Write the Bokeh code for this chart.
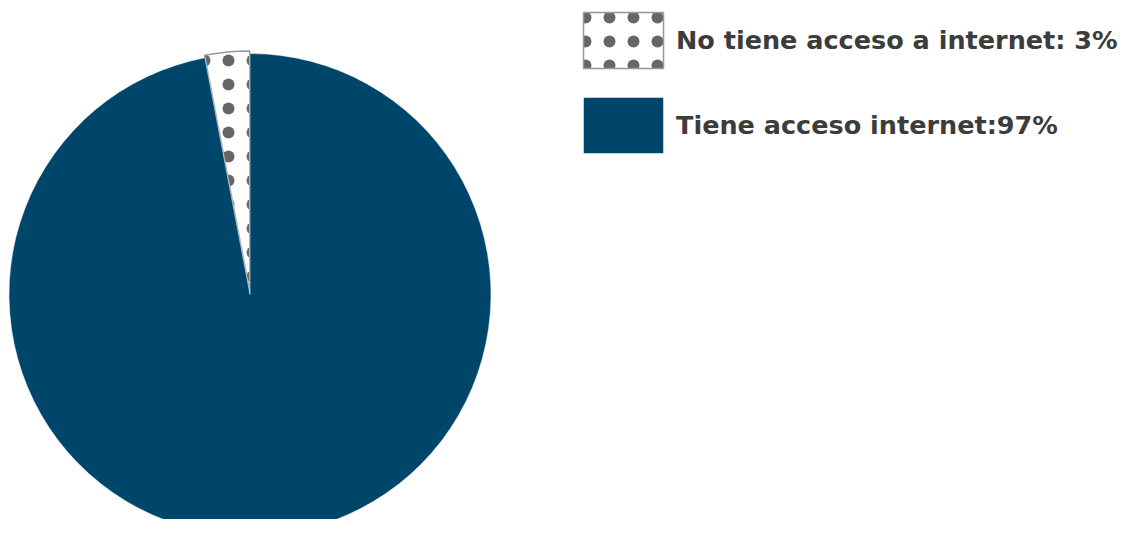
import math
from bokeh.plotting import figure
from bokeh.models import Range1d, Legend, LegendItem, ColumnDataSource
from bokeh.embed import file_html
from bokeh.resources import INLINE

# Data
labels = ["No tiene acceso a internet: 3%", "Tiene acceso internet:97%"]
values = [3, 97]

W, H = 1124, 519
p = figure(width=W, height=H, output_backend="svg", toolbar_location=None,
           x_range=Range1d(0, W), y_range=Range1d(0, H), min_border=0)
p.axis.visible = False
p.grid.visible = False
p.outline_line_color = None
p.background_fill_color = "white"
p.border_fill_color = "white"

cx, cy, r = 249.5, H - 294.0, 241.0
total = sum(values)
start = math.pi / 2
angles = []
for v in values:
    a = 2 * math.pi * v / total
    angles.append((start, start + a))
    start += a

styles = [
    dict(fill_color="white", line_color="#999999", line_width=1.5,
         hatch_pattern="dot", hatch_color="#666666", hatch_scale=24, hatch_weight=8,
         explode=2.5),
    dict(fill_color="#00466A", line_color="white", line_width=0.5, explode=0.0),
]

items = []
for lab, (a0, a1), st in zip(labels, angles, styles):
    st = dict(st)
    ex = st.pop("explode")
    mid = (a0 + a1) / 2
    src = ColumnDataSource(dict(x=[cx + ex * math.cos(mid)], y=[cy + ex * math.sin(mid)],
                                s=[a0], e=[a1]))
    rend = p.wedge(x="x", y="y", radius=r, start_angle="s", end_angle="e", source=src, **st)
    items.append(LegendItem(label=lab, renderers=[rend]))

leg_h = 70 * 2 + 15
legend = Legend(items=items, location=(573, H - 5 - leg_h), orientation="vertical",
                glyph_width=100, glyph_height=70, spacing=15, padding=0, margin=0,
                label_standoff=3, label_text_font="DejaVu Sans", label_text_font_style="bold",
                label_text_font_size="25.5px", label_text_color="#3c3c3c",
                background_fill_alpha=0, border_line_alpha=0, label_height=70)
p.add_layout(legend)

open("out.html", "w").write(file_html(p, INLINE))
